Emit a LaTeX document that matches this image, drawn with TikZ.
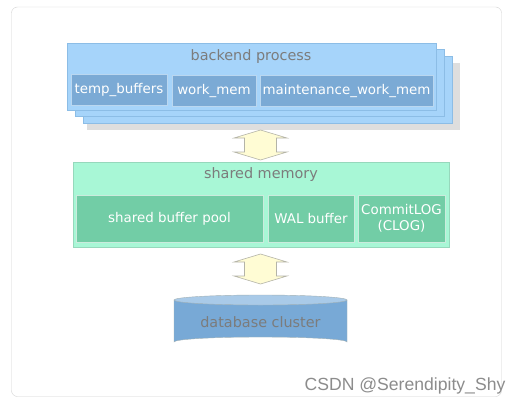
\documentclass[tikz,border=0pt]{standalone}
\usepackage{fontspec}
\setmainfont{DejaVu Sans}
\newfontfamily\wmfont{Liberation Sans}
\usepackage{tikz}
\usetikzlibrary{positioning}
\usepackage{xcolor}

\definecolor{procfill}{HTML}{A6D4FA}
\definecolor{procedge}{HTML}{8CBDE6}
\definecolor{procsub}{HTML}{7BAAD5}
\definecolor{shmfill}{HTML}{A8F7D6}
\definecolor{shmedge}{HTML}{96D8BC}
\definecolor{shmsub}{HTML}{72CDA6}
\definecolor{xferfill}{HTML}{FFFCD4}
\definecolor{xferedge}{HTML}{B4B4A8}
\definecolor{dbbody}{HTML}{78A9D6}
\definecolor{dbtop}{HTML}{A9CAE8}
\definecolor{labelgray}{HTML}{7C7C7C}
\definecolor{framegray}{HTML}{D4D4D4}

\begin{document}
\begin{tikzpicture}[x=1pt, y=-1pt,
        every node/.style = {inner sep=0pt, font=\fontsize{13.4}{15.5}\selectfont},
        procbox/.style = {draw=procedge, fill=procfill, minimum width=369, minimum height=67},
        procpart/.style = {draw=procedge!60!white, fill=procsub, text=white, minimum height=31},
        shmpart/.style = {draw=shmedge!50!white, fill=shmsub, text=white, minimum height=47, align=center},
        title/.style = {text=labelgray, font=\fontsize{14.4}{16}\selectfont},
        xfer/.style = {draw=xferedge, fill=xferfill, line width=0.6pt}
        ]
        % frame and page
        \fill[white] (0,0) rectangle (526,406);
        \draw[framegray, fill=white, rounded corners=6] (11.5,7) rectangle (501.5,396.5);

        % backend process (stacked)
        \fill[black!13] (87,63) rectangle (460,130);
        \node[procbox] (proc3) at (267.5,89.5) {};
        \node[procbox] (proc2) at (259.5,82.5) {};
        \node[procbox] (proc) at (251.5,76.5) {};
        \node[title] (proctitle) at (251,57) {backend process};
        \node[procpart, minimum width=96] (tmpbuf) at (119,90) {temp\_buffers};
        \node[procpart, minimum width=84] (workmem) at (214,91) {work\_mem};
        \node[procpart, minimum width=173] (maintmem) at (346.5,91) {maintenance\_work\_mem};

        % shared memory
        \node[draw=shmedge, fill=shmfill, minimum width=376, minimum height=85] (shm) at (261,204.5) {};
        \node[title] (shmtitle) at (261,175) {shared memory};
        \node[shmpart, minimum width=187] (bufpool) at (169.5,218.5) {shared buffer pool};
        \node[shmpart, minimum width=86] (walbuf) at (311,218.5) {WAL buffer};
        \node[shmpart, minimum width=87] (clog) at (401.5,218.5) {CommitLOG\\(CLOG)};

        % transfer arrows
        \foreach \t in {130,254}
            \draw[xfer] (260.5,\t) -- ++(26.5,8) -- ++(-10.5,0) -- ++(0,14) -- ++(10.5,0)
                -- ++(-26.5,8) -- ++(-26.5,-8) -- ++(10.5,0) -- ++(0,-14) -- ++(-10.5,0) -- cycle;

        % database cluster
        \draw[xferedge!70!dbbody, fill=dbbody] (174,300) -- (174,342)
            arc[start angle=180, end angle=360, x radius=86.5, y radius=5] -- (347,300) -- cycle;
        \draw[xferedge!70!dbbody, fill=dbtop] (260.5,300) ellipse[x radius=86.5, y radius=5];
        \node[title] (db) at (260.5,322) {database cluster};

        % watermark
        \node[text=black!45, font=\wmfont\fontsize{17.6}{19}\selectfont] (mark) at (405,386) {CSDN @Serendipity\_Shy};
\end{tikzpicture}
\end{document}
